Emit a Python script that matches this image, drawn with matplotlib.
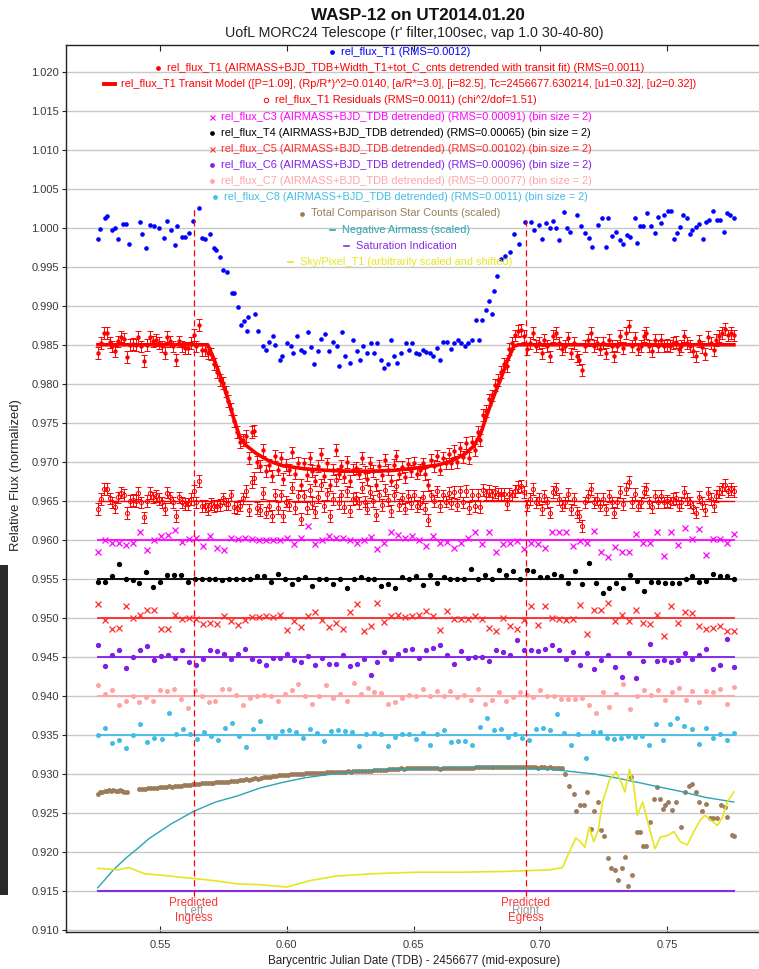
import numpy as np
import matplotlib
matplotlib.use("Agg")
import matplotlib.pyplot as plt
from matplotlib.lines import Line2D
from matplotlib.patches import Rectangle

plt.rcParams['font.family'] = ['Liberation Sans', 'DejaVu Sans']

# ---------------- texts ----------------
title = "WASP-12 on UT2014.01.20"
subtitle = "UofL MORC24 Telescope (r' filter,100sec, vap 1.0 30-40-80)"
xlabel = "Barycentric Julian Date (TDB) - 2456677 (mid-exposure)"
ylabel = "Relative Flux (normalized)"
yticks = [0.910, 0.915, 0.920, 0.925, 0.930, 0.935, 0.940, 0.945, 0.950, 0.955,
          0.960, 0.965, 0.970, 0.975, 0.980, 0.985, 0.990, 0.995, 1.000, 1.005,
          1.010, 1.015, 1.020]
xticks = [0.55, 0.60, 0.65, 0.70, 0.75]
t_ingress = 0.5632
t_egress = 0.6942
t_first, t_last = 0.5255, 0.7763

# ---------------- rel_flux_T1 (raw) ----------------
blue_t = [
0.5257, 0.5265, 0.5283, 0.5292, 0.5309, 0.5322, 0.5336, 0.5353, 0.5366, 0.5376,
0.5420, 0.5429, 0.5446, 0.5462, 0.5476, 0.5494, 0.5515, 0.5529, 0.5543, 0.5559,
0.5567, 0.5585, 0.5599, 0.5613, 0.5630, 0.5652, 0.5666, 0.5678, 0.5695, 0.5713,
0.5722, 0.5736, 0.5748, 0.5762, 0.5783, 0.5792, 0.5806, 0.5818, 0.5831, 0.5842,
0.5848, 0.5874, 0.5885, 0.5906, 0.5918, 0.5929, 0.5945, 0.5955, 0.5971, 0.5982,
0.5999, 0.6017, 0.6025, 0.6041, 0.6055, 0.6069, 0.6082, 0.6096, 0.6108, 0.6122,
0.6134, 0.6152, 0.6166, 0.6182, 0.6196, 0.6204, 0.6217, 0.6231, 0.6248, 0.6262,
0.6275, 0.6289, 0.6301, 0.6315, 0.6331, 0.6345, 0.6357, 0.6371, 0.6384, 0.6398,
0.6412, 0.6424, 0.6436, 0.6450, 0.6468, 0.6480, 0.6494, 0.6508, 0.6520, 0.6538,
0.6550, 0.6564, 0.6578, 0.6591, 0.6605, 0.6617, 0.6631, 0.6648, 0.6661, 0.6675,
0.6687, 0.6701, 0.6713, 0.6731, 0.6745, 0.6757, 0.6771, 0.6787, 0.6797, 0.6808,
0.6818, 0.6827, 0.6845, 0.6862, 0.6880, 0.6894, 0.6915, 0.6941, 0.6962, 0.6976,
0.6994, 0.7008, 0.7020, 0.7038, 0.7050, 0.7061, 0.7073, 0.7091, 0.7103, 0.7117,
0.7143, 0.7161, 0.7175, 0.7191, 0.7205, 0.7227, 0.7243, 0.7257, 0.7266, 0.7284,
0.7298, 0.7315, 0.7327, 0.7340, 0.7354, 0.7371, 0.7380, 0.7392, 0.7406, 0.7420,
0.7438, 0.7450, 0.7462, 0.7476, 0.7489, 0.7503, 0.7515, 0.7526, 0.7538, 0.7552,
0.7564, 0.7577, 0.7591, 0.7599, 0.7613, 0.7626, 0.7640, 0.7652, 0.7664, 0.7682,
0.7696, 0.7710, 0.7722, 0.7735, 0.7749, 0.7763]
blue_y_e4 = [
9986, 9999, 10012, 10015, 9997, 10000, 9985, 10005, 10005, 9979,
10007, 9992, 9974, 10004, 10002, 10000, 9987, 10009, 9997, 9978,
10002, 9988, 9988, 9993, 10009, 10025, 9987, 9986, 9992, 9974,
9971, 9962, 9946, 9943, 9916, 9916, 9898, 9875, 9880, 9868,
9886, 9890, 9868, 9848, 9843, 9854, 9861, 9850, 9831, 9835,
9852, 9848, 9840, 9861, 9843, 9841, 9867, 9847, 9825, 9842,
9857, 9864, 9842, 9854, 9849, 9823, 9866, 9836, 9827, 9856,
9842, 9831, 9849, 9839, 9852, 9839, 9852, 9831, 9820, 9826,
9856, 9836, 9827, 9839, 9852, 9843, 9852, 9839, 9838, 9843,
9841, 9839, 9836, 9846, 9830, 9854, 9854, 9844, 9852, 9856,
9852, 9848, 9852, 9856, 9882, 9856, 9882, 9894, 9906, 9889,
9919, 9938, 9960, 9964, 9969, 9992, 9979, 10007, 10007, 9997,
10004, 9986, 10006, 10000, 10009, 10000, 9984, 10020, 10000, 9994,
10016, 10002, 9993, 9987, 9975, 10004, 10012, 9975, 10012, 9989,
9994, 9984, 9979, 9991, 9988, 10012, 9981, 10002, 10002, 10019,
10002, 9993, 10014, 10006, 10016, 10022, 10022, 9986, 9993, 10001,
10016, 10012, 9992, 9997, 10001, 10005, 9986, 10007, 10010, 10022,
10010, 10010, 9994, 10019, 10016, 10012]

# ---------------- rel_flux_T1 detrended (1e-5 units), by segment ----------------
red_pre_span = (0.5255, 0.5689)
red_pre_e5 = [98394, 98521, 98649, 98649, 98530, 98479, 98415, 98543, 98606, 98572,
              98343, 98500, 98513, 98500, 98598, 98479, 98288, 98500, 98598, 98543,
              98564, 98521, 98479, 98394, 98606, 98543, 98479, 98309, 98543, 98479,
              98458, 98458, 98521, 98628, 98479, 98755, 98436, 98436, 98394]
red_transit_span = (0.5701, 0.6912)
red_transit_e5 = [98380, 98250, 98150, 98050, 98010, 97900, 97780, 97680, 97520, 97380,
                  97250, 97280, 97330, 97050, 97380, 97400, 97000, 96950, 97150, 96880,
                  96960, 96820,
                  97080, 96900, 97050, 96780, 96960, 96900, 97120, 96850, 96990, 96700,
                  96980, 96830, 97050, 96880, 96760, 96950, 97100, 96820, 96980, 96700,
                  96900, 97150, 96850, 96950, 96800, 97000, 96750, 96900, 96920, 96850,
                  97050, 96870, 96780, 96990, 96880, 96700, 96950, 96830, 97020,
                  96900, 96760, 96960, 97080, 96850, 96930, 96800, 96970, 96880, 96990,
                  96850, 96900, 96980, 96840, 96700, 97020,
                  96950, 97080, 96900, 97050, 96980, 97100, 96980, 97140, 97000, 97180,
                  97060, 97240, 97050, 97260, 97150, 97380, 97280, 97600, 97650, 97800,
                  97850, 97980, 98050, 98150, 98260, 98230, 98450, 98520, 98620, 98680]
red_post_span = (0.6924, 0.7763)
red_post_e5 = [98690, 98610, 98440, 98520, 98650, 98480, 98520, 98390, 98560, 98480,
               98350, 98610, 98650, 98520, 98440, 98480, 98590, 98390, 98520, 98350,
               98310, 98180, 98480, 98560, 98650, 98480, 98520, 98440, 98520, 98390,
               98560, 98480, 98350, 98480, 98610, 98460, 98650, 98740, 98480, 98590,
               98440, 98480, 98610, 98650, 98480, 98420, 98560, 98480, 98560, 98480,
               98500, 98480, 98520, 98540, 98440, 98480, 98610, 98520, 98480, 98420,
               98350, 98550, 98470, 98380, 98600, 98520, 98430, 98560, 98610, 98650,
               98700, 98620, 98650, 98620]
red_err = 0.00075

# ---------------- residuals (1e-5 units), same segments ----------------
res_pre_e5 = [96394, 96521, 96649, 96649, 96530, 96479, 96415, 96543, 96606, 96572,
              96343, 96500, 96513, 96500, 96598, 96479, 96288, 96500, 96598, 96543,
              96564, 96521, 96479, 96394, 96606, 96543, 96479, 96309, 96543, 96479,
              96458, 96458, 96521, 96628, 96479, 96755, 96436, 96436, 96394]
res_transit_e5 = [96460, 96430, 96440, 96450, 96530, 96460, 96460, 96570, 96420, 96410,
                  96440, 96530, 96630, 96380, 96740, 96790, 96410, 96380, 96600, 96350,
                  96440, 96310,
                  96580, 96410, 96570, 96310, 96490, 96450, 96670, 96410, 96560, 96270,
                  96560, 96410, 96640, 96470, 96360, 96550, 96700, 96430, 96590, 96310,
                  96520, 96770, 96470, 96570, 96420, 96620, 96370, 96520, 96540, 96470,
                  96670, 96490, 96400, 96610, 96500, 96320, 96570, 96450, 96640,
                  96510, 96370, 96570, 96690, 96450, 96530, 96400, 96560, 96470, 96570,
                  96430, 96470, 96550, 96400, 96250, 96570,
                  96495, 96620, 96430, 96570, 96490, 96600, 96470, 96610, 96450, 96620,
                  96480, 96630, 96410, 96580, 96430, 96580, 96420, 96640, 96580, 96630,
                  96580, 96610, 96590, 96590, 96590, 96460, 96590, 96570, 96630, 96680]
res_post_e5 = [96690, 96610, 96440, 96520, 96650, 96480, 96520, 96390, 96560, 96480,
               96350, 96610, 96650, 96520, 96440, 96480, 96590, 96390, 96520, 96350,
               96310, 96180, 96480, 96560, 96650, 96480, 96520, 96440, 96520, 96390,
               96560, 96480, 96350, 96480, 96610, 96460, 96650, 96740, 96480, 96590,
               96440, 96480, 96610, 96650, 96480, 96420, 96560, 96480, 96560, 96480,
               96500, 96480, 96520, 96540, 96440, 96480, 96610, 96520, 96480, 96420,
               96350, 96550, 96470, 96380, 96600, 96520, 96430, 96560, 96610, 96650,
               96700, 96620, 96650, 96620]
res_level = 0.965

# ---------------- transit model ----------------
model_t = [0.5255, 0.5688, 0.5711, 0.5737, 0.5764, 0.5790, 0.5816, 0.5843, 0.5878,
           0.5930, 0.5983, 0.6071, 0.6158, 0.6246, 0.6334, 0.6421, 0.6509, 0.6597,
           0.6649, 0.6702, 0.6737, 0.6763, 0.6790, 0.6816, 0.6842, 0.6869, 0.6895,
           0.6912, 0.7763]
model_y = [0.9850, 0.9850, 0.9833, 0.9810, 0.9784, 0.9756, 0.9730, 0.9720, 0.9711,
           0.9701, 0.9695, 0.9691, 0.9689, 0.9688, 0.9688, 0.9689, 0.9692, 0.9696,
           0.9701, 0.9710, 0.9720, 0.9735, 0.9761, 0.9784, 0.9805, 0.9829, 0.9848,
           0.9850, 0.9850]

# ---------------- comparison stars, bin size 2 (1e-5 units) ----------------
c3_e5 = [95850, 96000, 95955, 95965, 95935, 95960, 96095, 95870, 96000, 96050, 96060,
         96130, 95975, 96010, 96030, 95925, 96050, 95900, 95870, 96020, 96015, 96030,
         96015, 96000, 95995, 96000, 95995, 96030, 95945, 96020, 96180, 95945, 96000,
         96050, 96030, 96030, 96000, 95965, 96000, 96040, 95880, 95965, 96095, 96060,
         96020, 96050, 96000, 95925, 96050, 95965, 95975, 95895, 95965, 96020, 96095,
         95945, 96095, 95840, 95945, 95965, 95985, 95880, 95965, 95945, 95890, 96095,
         96095, 96095, 95925, 95990, 95955, 96115, 95840, 95785, 95905, 95840, 95840,
         96070, 95955, 95955, 96105, 95795, 96105, 95930, 96155, 96005, 96135, 95805,
         96005, 96005, 95955, 96075]
t4_e5 = [95457, 95457, 95534, 95696, 95500, 95480, 95449, 95585, 95398, 95457, 95547,
         95547, 95547, 95457, 95492, 95492, 95492, 95500, 95479, 95504, 95492, 95500,
         95492, 95534, 95534, 95457, 95568, 95500, 95428, 95500, 95521, 95406, 95500,
         95500, 95428, 95500, 95385, 95500, 95521, 95492, 95500, 95406, 95428, 95385,
         95521, 95500, 95534, 95415, 95547, 95449, 95521, 95504, 95504, 95504, 95628,
         95500, 95547, 95500, 95610, 95543, 95598, 95500, 95619, 95598, 95521, 95521,
         95568, 95534, 95441, 95598, 95428, 95704, 95441, 95322, 95385, 95449, 95385,
         95547, 95470, 95343, 95457, 95457, 95441, 95441, 95441, 95492, 95534, 95457,
         95470, 95568, 95534, 95534, 95500]
c5_e5 = [95183, 94979, 94851, 94864, 95157, 95000, 95043, 95098, 95098, 94860, 94851,
         95043, 94987, 95000, 94987, 94924, 94928, 94915, 95021, 94958, 94907, 94979,
         95013, 95013, 95021, 95013, 95043, 94843, 94958, 94881, 95021, 95072, 94979,
         94881, 94928, 94860, 95072, 95183, 94830, 94894, 95191, 94945, 95021, 95043,
         95013, 95021, 95043, 95085, 95021, 94843, 95085, 94987, 94987, 94987, 95021,
         94987, 94873, 94830, 95000, 94894, 94851, 94979, 95149, 94907, 95149, 95000,
         94987, 94979, 94987, 95170, 94796, 95098, 95098, 95191, 94958, 95043, 94966,
         95106, 94936, 94924, 95043, 94766, 95149, 94928, 95072, 95064, 94894, 94851,
         94873, 94894, 94830, 94830]
c6_e5 = [94658, 94381, 94521, 94594, 94359, 94500, 94594, 94636, 94457, 94513, 94521,
         94491, 94585, 94428, 94394, 94479, 94594, 94581, 94543, 94479, 94534, 94607,
         94479, 94453, 94394, 94491, 94491, 94534, 94457, 94428, 94513, 94394, 94491,
         94415, 94415, 94521, 94381, 94406, 94479, 94274, 94428, 94564, 94479, 94543,
         94594, 94607, 94491, 94585, 94619, 94649, 94521, 94406, 94572, 94491, 94500,
         94500, 94445, 94594, 94564, 94521, 94713, 94585, 94585, 94572, 94598, 94649,
         94585, 94479, 94564, 94394, 94555, 94351, 94466, 94521, 94364, 94244, 94555,
         94232, 94445, 94670, 94445, 94466, 94428, 94457, 94555, 94470, 94530, 94607,
         94342, 94394, 94734, 94364]
c7_e5 = [94145, 94030, 94081, 93881, 93932, 94000, 93923, 93987, 93932, 94081, 94060,
         94094, 93966, 93847, 94072, 94000, 93923, 93932, 94094, 94094, 94009, 93889,
         93974, 93996, 94009, 93996, 93932, 94030, 94072, 94158, 93996, 93902, 93996,
         94136, 93974, 94030, 93932, 94170, 94030, 94102, 94051, 94043, 93893, 93923,
         93974, 94009, 94000, 94085, 94000, 94064, 94000, 94060, 93987, 94009, 93945,
         94085, 93902, 93945, 94051, 93932, 93987, 94051, 94009, 93987, 94072, 94000,
         94000, 93957, 93966, 93957, 93974, 93889, 93787, 94051, 93859, 94030, 94158,
         93830, 94000, 94081, 94009, 94081, 93945, 94051, 94102, 93945, 94060, 93923,
         94064, 94051, 94094, 93893, 94115]
c8_e5 = [93500, 93594, 93394, 93436, 93338, 93500, 93636, 93406, 93466, 93449, 93785,
         93509, 93577, 93509, 93449, 93534, 93487, 93436, 93594, 93649, 93491, 93351,
         93577, 93679, 93470, 93470, 93551, 93564, 93534, 93457, 93577, 93521, 93423,
         93551, 93564, 93555, 93534, 93364, 93509, 93521, 93509, 93360, 93479, 93513,
         93509, 93449, 93521, 93372, 93509, 93564, 93406, 93423, 93423, 93372, 93598,
         93722, 93564, 93577, 93479, 93509, 93457, 93436, 93577, 93594, 93564, 93764,
         93521, 93372, 93509, 93210, 93534, 93543, 93466, 93445, 93466, 93487, 93470,
         93487, 93372, 93641, 93436, 93641, 93713, 93619, 93577, 93381, 93585, 93457,
         93509, 93436, 93530]
detrend_levels = {"C3": 0.960, "T4": 0.955, "C5": 0.950, "C6": 0.945, "C7": 0.940, "C8": 0.935}

# ---------------- total comparison star counts (scaled) ----------------
tot_a_span = (0.5255, 0.5368)
tot_a_e5 = [92745, 92766, 92774, 92787, 92779, 92791, 92787, 92791, 92787, 92787,
            92791, 92783, 92774, 92762]
tot_b_span = (0.5417, 0.7085)
tot_b_e5 = [92805, 92810, 92808, 92815, 92820, 92818, 92825, 92830, 92828, 92835,
            92840, 92838, 92845, 92850, 92848, 92855, 92862, 92860, 92870,
            92875, 92872, 92880, 92885, 92882, 92890, 92888, 92895, 92892, 92898,
            92902, 92900, 92908, 92905, 92915,
            92920, 92925, 92930, 92928, 92935, 92942, 92940, 92950, 92955, 92962,
            92960, 92970, 92975, 92980, 92987,
            92990, 92985, 92995, 93000, 92998, 93005, 93002, 93008, 93010, 93006,
            93012, 93015, 93012, 93018, 93021,
            93020, 93025, 93022, 93028, 93026, 93030, 93032, 93028, 93035, 93038,
            93034, 93040, 93042, 93038, 93043,
            93045, 93048, 93050, 93055, 93052, 93058, 93062, 93060, 93065, 93070,
            93068, 93072, 93075, 93072, 93077,
            93075, 93078, 93072, 93076, 93074, 93070, 93073, 93068, 93072, 93075,
            93070, 93074, 93071, 93076, 93072,
            93075, 93078, 93082, 93080, 93085, 93083, 93088, 93084, 93086, 93090,
            93085, 93088, 93084, 93087, 93085,
            93088, 93085, 93090, 93086, 93088, 93092, 93086, 93084, 93088, 93085,
            93082, 93086, 93083, 93080, 93084, 93081, 93078, 93082, 93080]
tot_c_t = [0.7096, 0.7114, 0.7131, 0.7140, 0.7158, 0.7170, 0.7184, 0.7198, 0.7210, 0.7228,
           0.7237, 0.7249, 0.7266, 0.7280, 0.7293, 0.7307, 0.7321, 0.7333, 0.7347, 0.7359,
           0.7363, 0.7380, 0.7392, 0.7405, 0.7418, 0.7433, 0.7446, 0.7458, 0.7471, 0.7484,
           0.7493, 0.7505, 0.7519, 0.7536, 0.7554, 0.7572, 0.7584, 0.7596, 0.7614, 0.7626,
           0.7637, 0.7654, 0.7668, 0.7680, 0.7695, 0.7712, 0.7726, 0.7737, 0.7754, 0.7763]
tot_c_y = [0.9300, 0.9284, 0.9274, 0.9253, 0.9260, 0.9260, 0.9277, 0.9229, 0.9253, 0.9264,
           0.9228, 0.9220, 0.9192, 0.9179, 0.9177, 0.9164, 0.9179, 0.9194, 0.9156, 0.9296,
           0.9171, 0.9226, 0.9226, 0.9207, 0.9207, 0.9238, 0.9268, 0.9283, 0.9268, 0.9255,
           0.9260, 0.9264, 0.9254, 0.9264, 0.9232, 0.9277, 0.9285, 0.9287, 0.9277, 0.9264,
           0.9253, 0.9262, 0.9243, 0.9243, 0.9243, 0.9260, 0.9258, 0.9245, 0.9222, 0.9221]

# ---------------- negative airmass (scaled) ----------------
am_t = [0.5254, 0.5281, 0.5316, 0.5368, 0.5403, 0.5456, 0.5544, 0.5632, 0.5719, 0.5807,
        0.5895, 0.5982, 0.6070, 0.6158, 0.6333, 0.6509, 0.6684, 0.6859, 0.7035, 0.7123,
        0.7210, 0.7298, 0.7386, 0.7473, 0.7561, 0.7649, 0.7763]
am_y = [0.9154, 0.9164, 0.9177, 0.9193, 0.9202, 0.9217, 0.9236, 0.9252, 0.9264, 0.9272,
        0.9282, 0.9289, 0.9295, 0.9299, 0.9305, 0.9307, 0.9308, 0.9308, 0.9306, 0.9303,
        0.9300, 0.9295, 0.9289, 0.9283, 0.9277, 0.9270, 0.9264]

# ---------------- saturation indication ----------------
sat_level = 0.915

# ---------------- sky/pixel (scaled & shifted) ----------------
sky_t = [0.5254, 0.5298, 0.5333, 0.5377, 0.5439, 0.5509, 0.5632, 0.5719, 0.5807, 0.5895,
         0.6000, 0.6088, 0.6193, 0.6333, 0.6509, 0.6684, 0.6859, 0.6942, 0.7035, 0.7087,
         0.7114, 0.7140, 0.7158, 0.7175, 0.7193, 0.7210, 0.7228, 0.7245, 0.7272, 0.7298,
         0.7319, 0.7333, 0.7351, 0.7368, 0.7382, 0.7403, 0.7430, 0.7452, 0.7473, 0.7500,
         0.7526, 0.7552, 0.7579, 0.7605, 0.7631, 0.7649, 0.7670, 0.7698, 0.7719, 0.7737,
         0.7763]
sky_y = [0.9179, 0.9178, 0.9177, 0.9180, 0.9172, 0.9170, 0.9166, 0.9163, 0.9159, 0.9158,
         0.9155, 0.9163, 0.9169, 0.9172, 0.9174, 0.9174, 0.9175, 0.9176, 0.9177, 0.9180,
         0.9200, 0.9218, 0.9213, 0.9206, 0.9232, 0.9213, 0.9228, 0.9264, 0.9292, 0.9303,
         0.9289, 0.9277, 0.9306, 0.9285, 0.9247, 0.9264, 0.9230, 0.9204, 0.9219, 0.9221,
         0.9226, 0.9213, 0.9209, 0.9226, 0.9241, 0.9247, 0.9241, 0.9234, 0.9245, 0.9264,
         0.9277]

# ---------------- legend rows ----------------
legend_rows = [
    ("rel_flux_T1 (RMS=0.0012)", "#0000ff", "dot"),
    ("rel_flux_T1 (AIRMASS+BJD_TDB+Width_T1+tot_C_cnts detrended with transit fit) (RMS=0.0011)", "#ff0000", "dot"),
    ("rel_flux_T1 Transit Model ([P=1.09], (Rp/R*)^2=0.0140, [a/R*=3.0], [i=82.5], Tc=2456677.630214, [u1=0.32], [u2=0.32])", "#ff0000", "thick"),
    ("rel_flux_T1 Residuals (RMS=0.0011) (chi^2/dof=1.51)", "#ff0000", "open"),
    ("rel_flux_C3 (AIRMASS+BJD_TDB detrended) (RMS=0.00091) (bin size = 2)", "#ff00ff", "x"),
    ("rel_flux_T4 (AIRMASS+BJD_TDB detrended) (RMS=0.00065) (bin size = 2)", "#000000", "dot"),
    ("rel_flux_C5 (AIRMASS+BJD_TDB detrended) (RMS=0.00102) (bin size = 2)", "#ff2a2a", "x"),
    ("rel_flux_C6 (AIRMASS+BJD_TDB detrended) (RMS=0.00096) (bin size = 2)", "#7f1fe8", "dot"),
    ("rel_flux_C7 (AIRMASS+BJD_TDB detrended) (RMS=0.00077) (bin size = 2)", "#ffa4a4", "dot"),
    ("rel_flux_C8 (AIRMASS+BJD_TDB detrended) (RMS=0.0011) (bin size = 2)", "#44bde6", "dot"),
    ("Total Comparison Star Counts (scaled)", "#9c7c5a", "dot"),
    ("Negative Airmass (scaled)", "#2aa5b5", "line"),
    ("Saturation Indication", "#8a2be2", "line"),
    ("Sky/Pixel_T1 (arbitrarily scaled and shifted)", "#e6e620", "line"),
]

# ======================= drawing =======================
W, H = 759, 969
fig = plt.figure(figsize=(W / 100, H / 100), dpi=100)
L, R, T, B = 66, 776, 45, 932
ax = fig.add_axes([L / W, 1 - B / H, (R - L) / W, (B - T) / H])
ax.set_xlim(0.5129, 0.7929)
ax.set_ylim(0.90974, 1.02342)
ax.set_yticks(yticks)
ax.set_yticklabels([f"{v:.3f}" for v in yticks])
ax.set_xticks(xticks)
ax.set_xticklabels([f"{v:.2f}" for v in xticks])
ax.yaxis.grid(True, color="#c8c8c8", lw=1.0)
ax.set_axisbelow(True)
for s in ["left", "bottom", "top"]:
    ax.spines[s].set_color("#222222")
    ax.spines[s].set_linewidth(1.0)
ax.spines["right"].set_visible(False)
ax.tick_params(axis="y", direction="out", length=3, labelsize=8, colors="#222222",
               labelcolor="#3a3a3a", pad=2)
ax.tick_params(axis="x", direction="in", length=4, labelsize=8, colors="#222222",
               labelcolor="#3a3a3a", top=True, pad=6)

red = "#ff0000"

# comparison series
def binned_t(vals):
    return np.linspace(t_first, t_last, len(vals))

series = [("C3", c3_e5, "#ff00ff", "x", 4.2, 0.9),
          ("T4", t4_e5, "#000000", "o", 2.8, 1.0),
          ("C5", c5_e5, "#ff2a2a", "x", 4.2, 0.9),
          ("C6", c6_e5, "#7f1fe8", "o", 2.8, 1.0),
          ("C7", c7_e5, "#ffa4a4", "o", 2.6, 1.0),
          ("C8", c8_e5, "#44bde6", "o", 2.6, 1.0)]
for key, vals, col, mk, ms, mew in series:
    ax.plot([t_first, t_last], [detrend_levels[key]] * 2, color=col, lw=1.3, zorder=2)
    ax.plot(binned_t(vals), np.array(vals) / 1e5, ls="none", marker=mk, ms=ms,
            mew=mew, color=col, zorder=3)

# total comparison counts
tot_col = "#9c7c5a"
ax.plot(np.linspace(*tot_a_span, len(tot_a_e5)), np.array(tot_a_e5) / 1e5, ls="none",
        marker="o", ms=2.5, color=tot_col, zorder=3)
ax.plot(np.linspace(*tot_b_span, len(tot_b_e5)), np.array(tot_b_e5) / 1e5, ls="none",
        marker="o", ms=2.5, color=tot_col, zorder=3)
ax.plot(tot_c_t, tot_c_y, ls="none", marker="o", ms=2.5, color=tot_col, zorder=3)

# airmass, saturation, sky
ax.plot(am_t, am_y, color="#2aa5b5", lw=1.0, zorder=4)
ax.plot([t_first, t_last], [sat_level] * 2, color="#8a2be2", lw=1.5, zorder=4)
ax.plot(sky_t, sky_y, color="#e6e620", lw=1.2, zorder=4)

# residuals
ax.plot([t_first, t_last], [res_level] * 2, color=red, lw=1.0, zorder=2)
for span, vals in [(red_pre_span, res_pre_e5), (red_transit_span, res_transit_e5),
                   (red_post_span, res_post_e5)]:
    ax.errorbar(np.linspace(*span, len(vals)), np.array(vals) / 1e5, yerr=red_err,
                fmt="o", ms=3.0, mfc="none", mec=red, mew=0.7, ecolor=red,
                elinewidth=0.7, capsize=2.0, capthick=0.7, zorder=5)

# detrended T1 and model
for span, vals in [(red_pre_span, red_pre_e5), (red_transit_span, red_transit_e5),
                   (red_post_span, red_post_e5)]:
    ax.errorbar(np.linspace(*span, len(vals)), np.array(vals) / 1e5, yerr=red_err,
                fmt="o", ms=2.2, color=red, ecolor=red, elinewidth=0.7, capsize=2.0,
                capthick=0.7, zorder=5)
ax.plot(model_t, model_y, color=red, lw=2.6, zorder=6, solid_joinstyle="round")

# raw T1
ax.plot(blue_t, np.array(blue_y_e4) / 1e4, ls="none", marker="o", ms=2.3,
        color="#0000ff", zorder=6)

# predicted ingress / egress
ax.plot([t_ingress] * 2, [0.9143, 1.0025], color=red, lw=0.9, ls=(0, (5, 3)), zorder=7)
ax.plot([t_egress] * 2, [0.9143, 1.0011], color=red, lw=0.9, ls=(0, (5, 3)), zorder=7)
for tx, word in [(t_ingress, "Left"), (t_egress, "Right")]:
    xf = (L + (tx - 0.5129) / 0.28 * (R - L)) / W
    fig.text(xf, 1 - 903 / H, "Predicted", color="#ff3333", fontsize=8.3, ha="center", va="center")
    fig.text(xf, 1 - 911 / H, word, color="#999999", fontsize=8.3, ha="center", va="center")
    fig.text(xf, 1 - 918 / H, "Ingress" if word == "Left" else "Egress", color="#ff3333",
             fontsize=8.3, ha="center", va="center")

# titles and labels
fig.text(418 / W, 1 - 15 / H, title, fontsize=12.3, fontweight="bold", ha="center",
         va="center", color="#111111")
fig.text(414 / W, 1 - 33 / H, subtitle, fontsize=10.3, ha="center", va="center",
         color="#222222")
fig.text(414 / W, 1 - 961 / H, xlabel, fontsize=8.4, ha="center", va="center",
         color="#222222")
fig.text(16 / W, 1 - 475 / H, ylabel, fontsize=9.4, ha="center", va="center",
         rotation=90, color="#222222")

# screenshot artefact on the left edge
fig.add_artist(Rectangle((0, 1 - 895 / H), 8 / W, 330 / H, transform=fig.transFigure,
                         color="#2a2a2a", lw=0))

# legend rows, each centred
fig.canvas.draw()
renderer = fig.canvas.get_renderer()
leg_fs = 7.9
cx = 400
for k, (label, col, kind) in enumerate(legend_rows):
    ypx = 52 + 16.15 * k
    yf = 1 - ypx / H
    txt = fig.text(0, yf, label, color=col, fontsize=leg_fs, ha="left", va="center")
    w = txt.get_window_extent(renderer).width
    mw = 11 if kind == "thick" else 6
    gap = 6
    x0 = cx - (mw + gap + w) / 2
    txt.set_x((x0 + mw + gap) / W)
    mx = (x0 + mw / 2) / W
    if kind == "dot":
        fig.add_artist(Line2D([mx], [yf], marker="o", ms=2.4, color=col, ls="none",
                              transform=fig.transFigure))
    elif kind == "open":
        fig.add_artist(Line2D([mx], [yf], marker="o", ms=3.2, mfc="none", mec=col,
                              mew=0.7, ls="none", transform=fig.transFigure))
    elif kind == "x":
        fig.add_artist(Line2D([mx], [yf], marker="x", ms=3.6, mew=0.8, color=col,
                              ls="none", transform=fig.transFigure))
    elif kind == "thick":
        fig.add_artist(Line2D([x0 / W, (x0 + mw) / W], [yf, yf], lw=2.8, color=col,
                              transform=fig.transFigure))
    else:
        fig.add_artist(Line2D([(x0 + 0.5) / W, (x0 + mw - 0.5) / W], [yf, yf], lw=1.2,
                              color=col, transform=fig.transFigure))

fig.savefig("out.png", dpi=100)
